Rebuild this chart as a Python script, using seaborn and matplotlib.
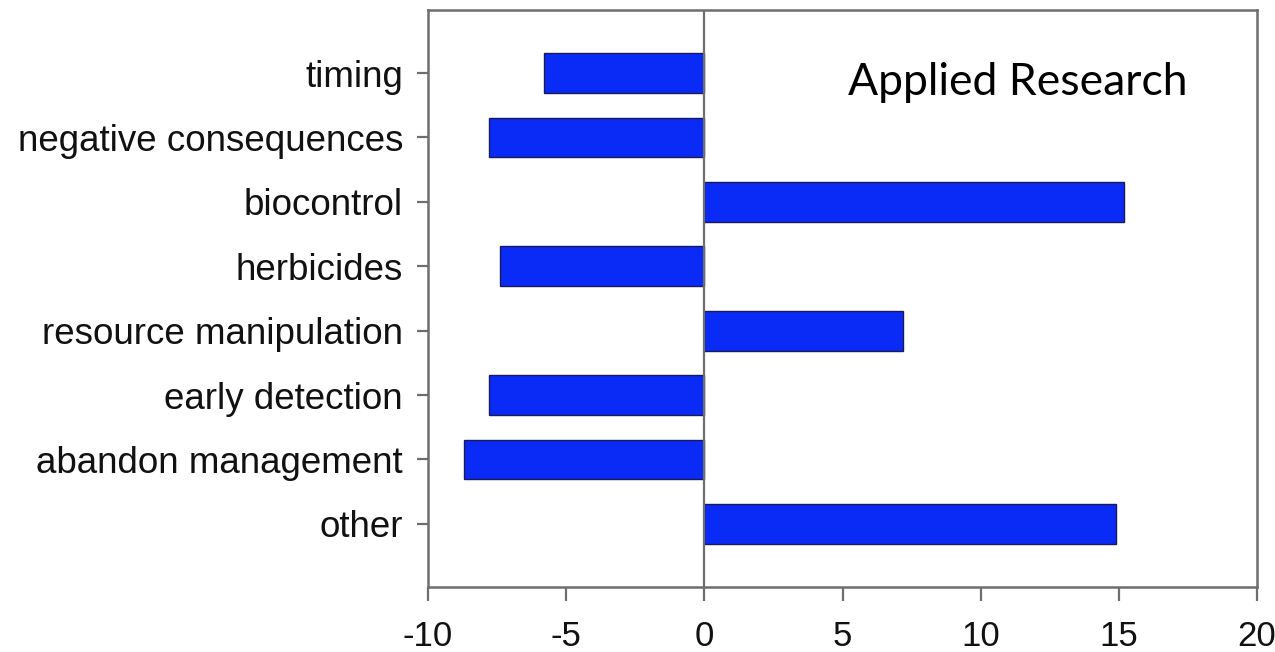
import matplotlib
matplotlib.use("Agg")
import matplotlib.pyplot as plt
import seaborn as sns
import pandas as pd

categories = [
    "timing",
    "negative consequences",
    "biocontrol",
    "herbicides",
    "resource manipulation",
    "early detection",
    "abandon management",
    "other",
]
values = [-5.8, -7.8, 15.2, -7.4, 7.2, -7.8, -8.7, 14.9]
x_ticks = [-10, -5, 0, 5, 10, 15, 20]
panel_title = "Applied Research"

df = pd.DataFrame({"category": categories, "value": values})

sns.set_theme(style="white")
plt.rcParams["font.family"] = ["Liberation Sans", "DejaVu Sans"]

fig = plt.figure(figsize=(12.75, 6.52), dpi=100)
ax = fig.add_axes([0.3357, 0.0997, 0.6502, 0.885])

sns.barplot(
    data=df, x="value", y="category", order=categories, orient="h",
    color="#0a2af5", saturation=1, width=0.62,
    edgecolor="#1a1a5a", linewidth=1.0, ax=ax,
)

spine_color = "#6e6e6e"
ax.axvline(0, color=spine_color, lw=1.6, zorder=3)

ax.set_xlim(-10, 20)
ax.set_ylim(7.98, -0.98)
ax.set_xticks(x_ticks)
ax.set_xticklabels([str(t) for t in x_ticks])
ax.set_xlabel("")
ax.set_ylabel("")

for side in ["left", "right", "top", "bottom"]:
    ax.spines[side].set_visible(True)
    ax.spines[side].set_color(spine_color)
    ax.spines[side].set_linewidth(1.8)

ax.tick_params(axis="x", which="major", direction="out", length=10, width=1.6,
               color=spine_color, labelsize=25, labelcolor="#111111", pad=14,
               bottom=True)
ax.tick_params(axis="y", which="major", direction="out", length=8, width=1.6,
               color=spine_color, labelsize=26.5, labelcolor="#111111", pad=10,
               left=True)

ax.text(0.507, 0.853, panel_title, transform=ax.transAxes, ha="left",
        va="baseline", fontsize=32, color="#000000",
        family=["Lato", "DejaVu Sans"])

fig.savefig("out.png", dpi=100)
